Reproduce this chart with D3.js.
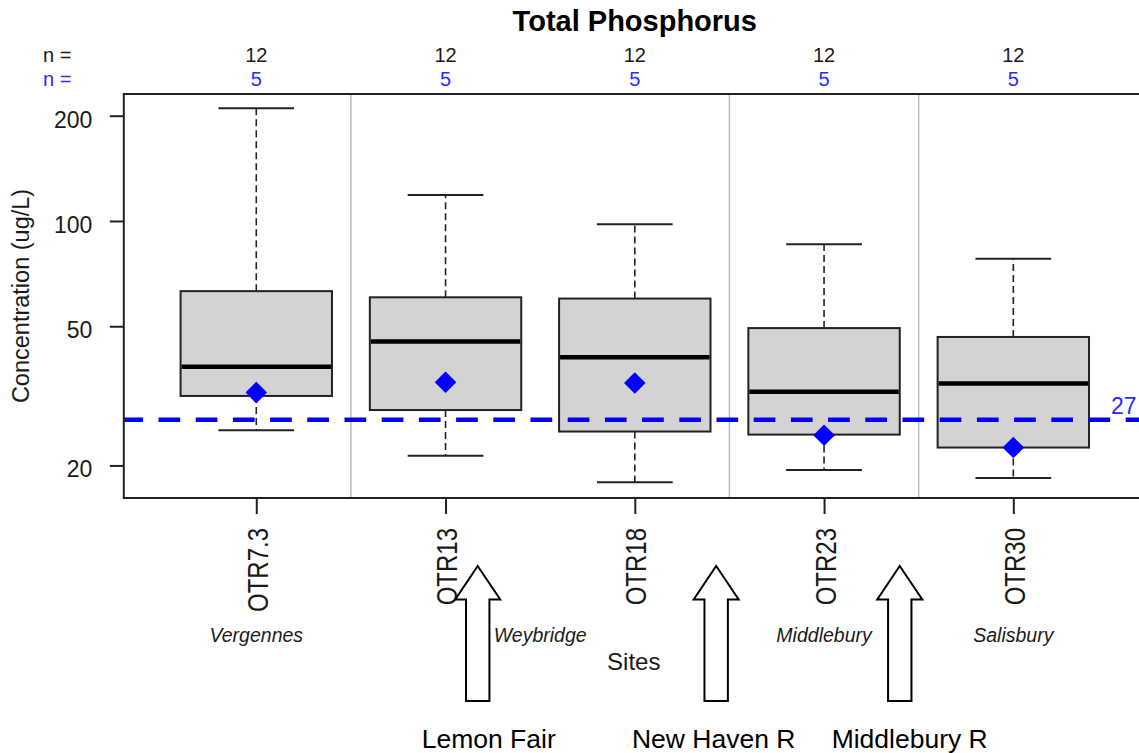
<!DOCTYPE html>
<html>
<head>
<meta charset="utf-8">
<script src="https://cdn.jsdelivr.net/npm/d3@7"></script>
<style>
  html, body { margin: 0; padding: 0; background: #fff; }
  svg { display: block; }
  text { font-family: "Liberation Sans", Arial, sans-serif; fill: #1a1a1a; }
</style>
</head>
<body>
<svg id="chart" width="1139" height="753"></svg>
<script>
// Sampling sites along Otter Creek, downstream to upstream
const sites = ["OTR7.3", "OTR13", "OTR18", "OTR23", "OTR30"];
const nAll = [12, 12, 12, 12, 12];
const nRecent = [5, 5, 5, 5, 5];

// Box-plot statistics, total phosphorus (ug/L)
const lowerWhisker = [25.2, 21.3, 17.9, 19.4, 18.4];
const q1 = [31.6, 28.8, 25.0, 24.5, 22.5];
const median = [38.3, 45.2, 40.8, 32.5, 34.3];
const q3 = [63.0, 60.5, 60.0, 49.4, 46.6];
const upperWhisker = [210, 118.7, 97.8, 85.8, 78.0];
const recentMean = [32.3, 34.6, 34.4, 24.4, 22.5];

const yTicks = [20, 50, 100, 200];
const threshold = 27;

// Town names below the axis (position in site units)
const towns = ["Vergennes", "Weybridge", "Middlebury", "Salisbury"];
const townPos = [1, 2.5, 4, 5];

// Reach dividers (site units)
const dividers = [1.5, 3.5, 4.5];

// Tributary inflows marked with arrows (site units)
const tributaries = ["Lemon Fair", "New Haven R", "Middlebury R"];
const tribPos = [2.17, 3.43, 4.40];
const tribLabelStart = [1.874, 2.985, 4.04];

const svg = d3.select("#chart");
svg.append("rect").attr("width", 1139).attr("height", 753).attr("fill", "#fff");

const plotTop = 94, plotBottom = 498;
const x = d3.scaleLinear().domain([0.3, 5.7]).range([123.8, 1145.8]);
const y = d3.scaleLog().domain([16.14, 230.7]).range([plotBottom, plotTop]);
const boxW = 0.8, capW = 0.4;

svg.append("defs").append("clipPath").attr("id", "plotclip")
  .append("rect").attr("x", x(0.3)).attr("y", plotTop)
  .attr("width", x(5.7) - x(0.3)).attr("height", plotBottom - plotTop);

// Title
svg.append("text").attr("x", (x(0.3) + x(5.7)) / 2).attr("y", 31)
  .attr("text-anchor", "middle").attr("font-size", 29).attr("font-weight", "bold")
  .style("fill", "#000").text("Total Phosphorus");

// Sample counts
const blue = "#0000ff";
svg.append("text").attr("x", 43).attr("y", 62).attr("font-size", 20).text("n =");
svg.append("text").attr("x", 43).attr("y", 86).attr("font-size", 20).style("fill", "#2b2bff").text("n =");
svg.selectAll("text.nall").data(nAll).join("text").attr("class", "nall")
  .attr("x", (d, i) => x(i + 1)).attr("y", 62).attr("text-anchor", "middle")
  .attr("font-size", 20).text(d => d);
svg.selectAll("text.nrec").data(nRecent).join("text").attr("class", "nrec")
  .attr("x", (d, i) => x(i + 1)).attr("y", 86).attr("text-anchor", "middle")
  .attr("font-size", 20).style("fill", "#2b2bff").text(d => d);

const plot = svg.append("g").attr("clip-path", "url(#plotclip)");

// Reach dividers
plot.selectAll("line.div").data(dividers).join("line").attr("class", "div")
  .attr("x1", d => x(d)).attr("x2", d => x(d))
  .attr("y1", plotTop).attr("y2", plotBottom)
  .attr("stroke", "#bdbdbd").attr("stroke-width", 1.5);

// Boxes
const idx = d3.range(sites.length);
const g = plot.selectAll("g.box").data(idx).join("g").attr("class", "box");

g.append("line") // upper whisker
  .attr("x1", i => x(i + 1)).attr("x2", i => x(i + 1))
  .attr("y1", i => y(q3[i])).attr("y2", i => y(upperWhisker[i]))
  .attr("stroke", "#222").attr("stroke-width", 1.6).attr("stroke-dasharray", "7,4");
g.append("line") // lower whisker
  .attr("x1", i => x(i + 1)).attr("x2", i => x(i + 1))
  .attr("y1", i => y(q1[i])).attr("y2", i => y(lowerWhisker[i]))
  .attr("stroke", "#222").attr("stroke-width", 1.6).attr("stroke-dasharray", "7,4");
g.append("line") // upper cap
  .attr("x1", i => x(i + 1 - capW / 2)).attr("x2", i => x(i + 1 + capW / 2))
  .attr("y1", i => y(upperWhisker[i])).attr("y2", i => y(upperWhisker[i]))
  .attr("stroke", "#222").attr("stroke-width", 2);
g.append("line") // lower cap
  .attr("x1", i => x(i + 1 - capW / 2)).attr("x2", i => x(i + 1 + capW / 2))
  .attr("y1", i => y(lowerWhisker[i])).attr("y2", i => y(lowerWhisker[i]))
  .attr("stroke", "#222").attr("stroke-width", 2);
g.append("rect")
  .attr("x", i => x(i + 1 - boxW / 2)).attr("width", i => x(i + 1 + boxW / 2) - x(i + 1 - boxW / 2))
  .attr("y", i => y(q3[i])).attr("height", i => y(q1[i]) - y(q3[i]))
  .attr("fill", "#d3d3d3").attr("stroke", "#222").attr("stroke-width", 2);
g.append("line") // median
  .attr("x1", i => x(i + 1 - boxW / 2) + 1).attr("x2", i => x(i + 1 + boxW / 2) - 1)
  .attr("y1", i => y(median[i])).attr("y2", i => y(median[i]))
  .attr("stroke", "#000").attr("stroke-width", 4.5);

// Threshold line
plot.append("line")
  .attr("x1", x(0.3) - 2.5).attr("x2", x(5.7))
  .attr("y1", y(threshold)).attr("y2", y(threshold))
  .attr("stroke", blue).attr("stroke-width", 4.5).attr("stroke-dasharray", "21.7,15.5");

// Recent mean markers
const r = 10.8;
plot.selectAll("path.mean").data(recentMean).join("path").attr("class", "mean")
  .attr("transform", (d, i) => `translate(${x(i + 1)},${y(d)})`)
  .attr("d", `M0,${-r}L${r},0L0,${r}L${-r},0Z`)
  .attr("fill", blue);

svg.append("text").attr("x", 1111).attr("y", y(threshold) - 6)
  .attr("font-size", 23).style("fill", "#2b2bff").text(threshold);

// Frame
svg.append("rect").attr("x", x(0.3)).attr("y", plotTop)
  .attr("width", x(5.7) - x(0.3)).attr("height", plotBottom - plotTop)
  .attr("fill", "none").attr("stroke", "#222").attr("stroke-width", 2);

// Y axis
const yAxis = svg.append("g").attr("transform", `translate(${x(0.3)},0)`)
  .call(d3.axisLeft(y).tickValues(yTicks).tickFormat(d3.format("d"))
    .tickSize(14).tickPadding(17.5));
yAxis.select(".domain").remove();
yAxis.selectAll("line").attr("stroke", "#222").attr("stroke-width", 2);
yAxis.selectAll("text").attr("dy", "0.5em").attr("font-size", 23)
  .attr("font-family", "Liberation Sans, Arial, sans-serif").style("fill", "#1a1a1a");

// X axis
const xAxis = svg.append("g").attr("transform", `translate(0,${plotBottom})`)
  .call(d3.axisBottom(x).tickValues(idx.map(i => i + 1)).tickFormat("").tickSize(16));
xAxis.select(".domain").remove();
xAxis.selectAll("line").attr("stroke", "#222").attr("stroke-width", 2);

svg.selectAll("text.site").data(sites).join("text").attr("class", "site")
  .attr("transform", (d, i) => `translate(${x(i + 1) + 11.5},528) rotate(-90) scale(1,1.25)`)
  .attr("text-anchor", "end").attr("font-size", 24).text(d => d);

svg.selectAll("text.town").data(towns).join("text").attr("class", "town")
  .attr("x", (d, i) => x(townPos[i])).attr("y", 641.5).attr("text-anchor", "middle")
  .attr("font-size", 19.5).attr("font-style", "italic").text(d => d);

svg.append("text").attr("x", (x(0.3) + x(5.7)) / 2 - 1).attr("y", 670)
  .attr("text-anchor", "middle").attr("font-size", 24).text("Sites");

svg.append("text").attr("transform", `translate(28.5,${(plotTop + plotBottom) / 2}) rotate(-90)`)
  .attr("text-anchor", "middle").attr("font-size", 23.5).text("Concentration (ug/L)");

// Tributary arrows
const tipY = 566, headY = 599.5, baseY = 701, headHalf = 22.5, shaftHalf = 11.7;
svg.selectAll("path.arrow").data(tribPos).join("path").attr("class", "arrow")
  .attr("transform", d => `translate(${x(d)},0)`)
  .attr("d", `M0,${tipY}L${headHalf},${headY}L${shaftHalf},${headY}L${shaftHalf},${baseY}` +
             `L${-shaftHalf},${baseY}L${-shaftHalf},${headY}L${-headHalf},${headY}Z`)
  .attr("fill", "#fff").attr("stroke", "#000").attr("stroke-width", 2);

svg.selectAll("text.trib").data(tributaries).join("text").attr("class", "trib")
  .attr("x", (d, i) => x(tribLabelStart[i])).attr("y", 748)
  .attr("font-size", 26.5).attr("font-family", "Lato, 'Open Sans', sans-serif")
  .style("fill", "#000").text(d => d);
</script>
</body>
</html>
